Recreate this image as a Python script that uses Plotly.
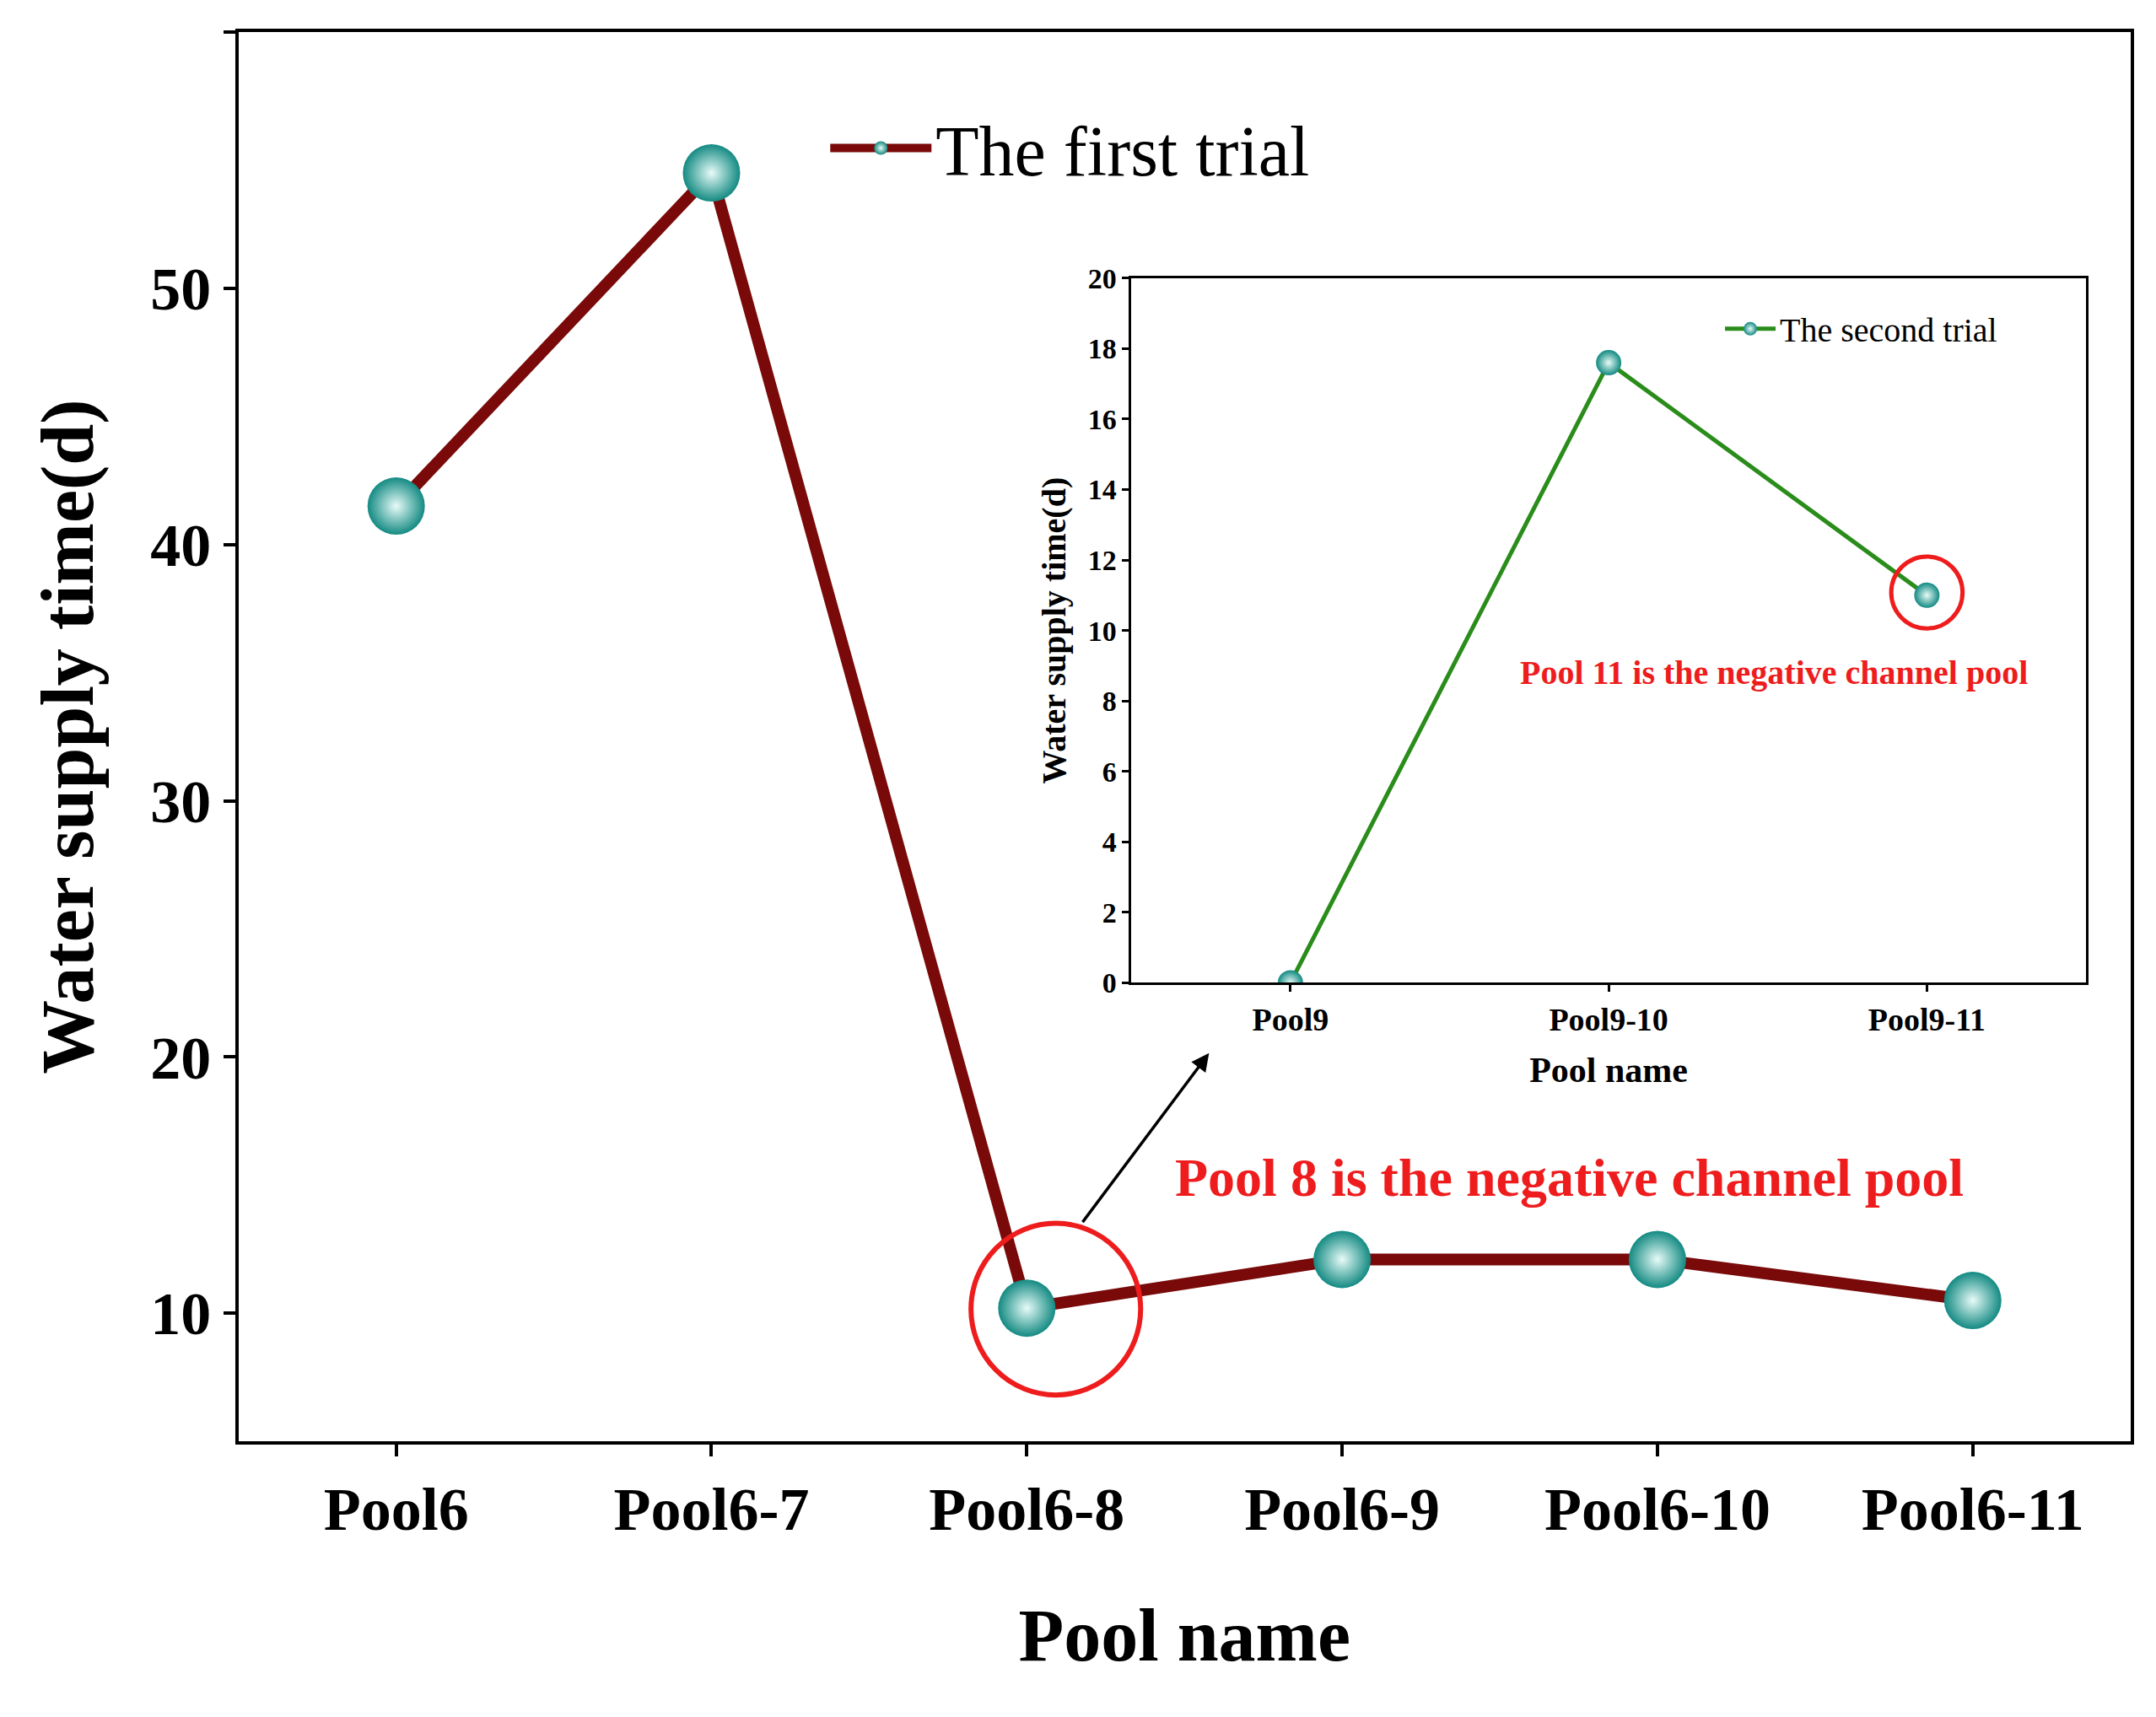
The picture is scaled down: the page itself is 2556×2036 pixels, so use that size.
import plotly.graph_objects as go

pools_main = ["Pool6", "Pool6-7", "Pool6-8", "Pool6-9", "Pool6-10", "Pool6-11"]
time_main = [41.5, 54.5, 10.2, 12.1, 12.1, 10.5]

pools_inset = ["Pool9", "Pool9-10", "Pool9-11"]
time_inset = [0.0, 17.6, 11.0]

FONT = "Liberation Serif"
teal = "#138a82"

fig = go.Figure()
fig.add_trace(go.Scatter(
    x=list(range(len(pools_main))), y=time_main, mode="lines+markers",
    name="The first trial", legend="legend",
    line=dict(color="#7a0a0a", width=14),
    marker=dict(size=68, color=teal, gradient=dict(type="radial", color="#e8fbf8"),
                line=dict(width=0)),
))
fig.add_trace(go.Scatter(
    x=list(range(len(pools_inset))), y=time_inset, mode="lines+markers",
    name="The second trial", legend="legend2", xaxis="x2", yaxis="y2",
    line=dict(color="#2a8c1a", width=5),
    marker=dict(size=30, color=teal, gradient=dict(type="radial", color="#e8fbf8"),
                line=dict(width=0)),
))

axis_common = dict(showline=True, linecolor="black", mirror=True, showgrid=False,
                   zeroline=False, ticks="outside", tickcolor="black")

fig.update_layout(
    width=2556, height=2036, plot_bgcolor="white", paper_bgcolor="white",
    margin=dict(l=0, r=0, t=0, b=0),
    font=dict(family=FONT, color="black"),
    xaxis=dict(axis_common, domain=[0.1075, 0.985], range=[-0.5, 5.5], linewidth=4,
               tickvals=list(range(len(pools_main))), ticktext=pools_main,
               ticklen=14, tickwidth=4,
               tickfont=dict(size=72, family=FONT, weight="bold"),
               title=dict(text="<b>Pool name</b>", font=dict(size=88, family=FONT), standoff=80)),
    yaxis=dict(axis_common, domain=[0.158, 0.994], range=[5, 60], linewidth=4,
               tickvals=[10, 20, 30, 40, 50, 60], ticklen=14, tickwidth=4,
               tickfont=dict(size=72, family=FONT, weight="bold"),
               title=dict(text="<b>Water supply time(d)</b>", font=dict(size=88, family=FONT), standoff=40)),
    xaxis2=dict(axis_common, domain=[0.5216, 0.9644], range=[-0.5, 2.5], anchor="y2",
                linewidth=2.5, tickvals=list(range(len(pools_inset))), ticktext=pools_inset,
                ticklen=8, tickwidth=2.5,
                tickfont=dict(size=38, family=FONT, weight="bold"),
                title=dict(text="<b>Pool name</b>", font=dict(size=42, family=FONT), standoff=25)),
    yaxis2=dict(axis_common, domain=[0.430, 0.848], range=[0, 20], anchor="x2",
                linewidth=2.5, dtick=2, ticklen=8, tickwidth=2.5,
                tickfont=dict(size=34, family=FONT, weight="bold"),
                title=dict(text="<b>Water supply time(d)</b>", font=dict(size=40, family=FONT), standoff=14)),
    legend=dict(x=0.38, y=0.925, yanchor="middle", xanchor="left", bgcolor="rgba(0,0,0,0)",
                font=dict(size=84, family=FONT), itemwidth=120),
    legend2=dict(x=0.795, y=0.818, yanchor="middle", xanchor="left", bgcolor="rgba(0,0,0,0)",
                 font=dict(size=40, family=FONT), itemwidth=60),
    showlegend=True,
)

fig.add_shape(type="circle", xref="x", yref="y", x0=2.092 - 0.269, x1=2.092 + 0.269,
              y0=10.16 - 3.35, y1=10.16 + 3.35, line=dict(color="#ee1c1c", width=6))
fig.add_shape(type="circle", xref="x2", yref="y2", x0=2 - 0.112, x1=2 + 0.112,
              y0=11.08 - 1.02, y1=11.08 + 1.02, line=dict(color="#ee1c1c", width=5))
fig.add_annotation(x=2.578, y=20.15, ax=2.174, ay=13.51, xref="x", yref="y",
                   axref="x", ayref="y", text="", showarrow=True,
                   arrowhead=2, arrowsize=1.2, arrowwidth=3.5, arrowcolor="black")
fig.add_annotation(x=3.72, y=15.3, xref="x", yref="y", showarrow=False,
                   text="<b>Pool 8 is the negative channel pool</b>",
                   font=dict(size=64, color="#ee1c1c", family=FONT))
fig.add_annotation(x=1.52, y=8.8, xref="x2", yref="y2", showarrow=False,
                   text="<b>Pool 11 is the negative channel pool</b>",
                   font=dict(size=40, color="#ee1c1c", family=FONT))

fig.write_html("out.html")
